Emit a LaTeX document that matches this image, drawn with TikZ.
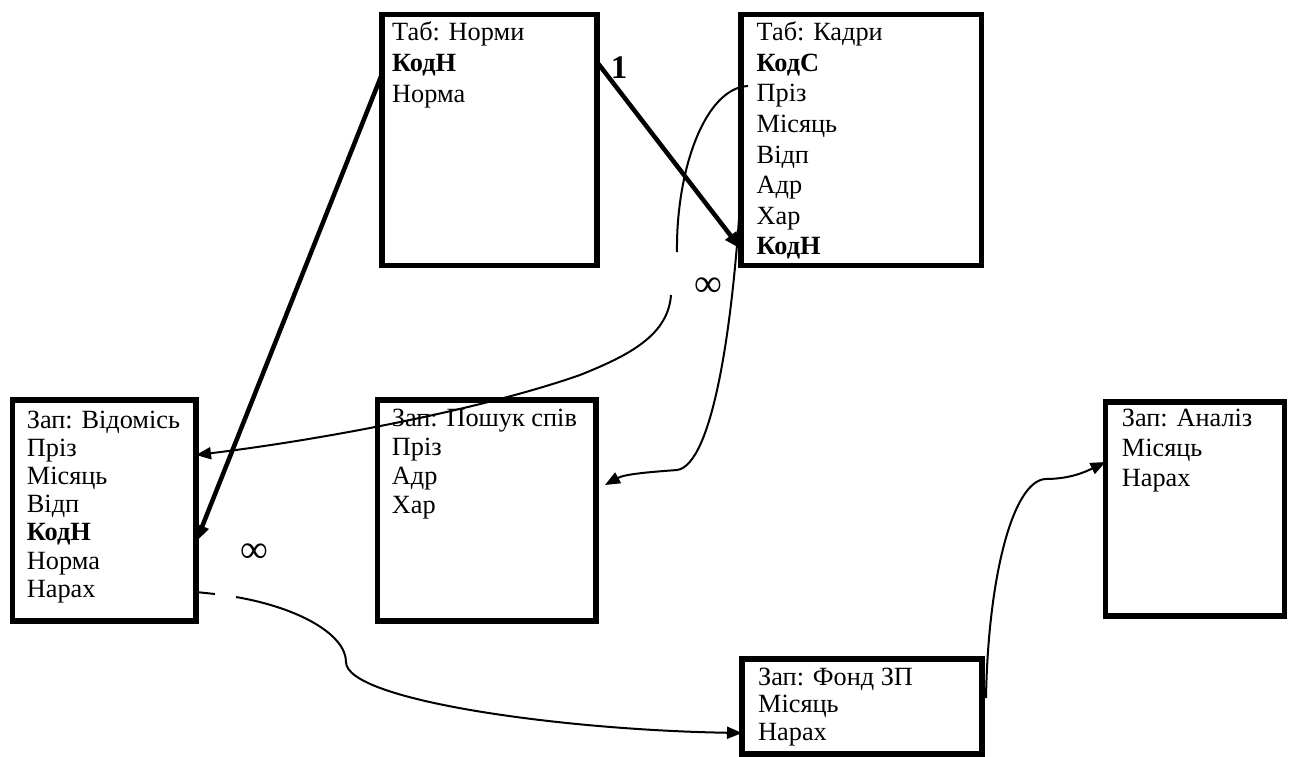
\documentclass[tikz,border=0pt]{standalone}
\usepackage{fontspec}
\setmainfont{Liberation Serif}
\usetikzlibrary{arrows.meta}
\newcommand{\fieldlist}[2]{\vtop{\baselineskip=#1\relax\lineskiplimit=-100pt\lineskip=0pt #2}}
\newcommand{\fl}[1]{\hbox{#1}}
\tikzset{
  tbl/.style={draw, line width=5.5pt, rectangle, outer sep=0pt, inner sep=0pt},
  fld/.style={anchor=base west, inner sep=0pt, font=\fontsize{26.3}{30}\selectfont},
  thickrel/.style={line width=4.5pt, -{Triangle[length=17pt,width=13pt]}},
  thinrel/.style={line width=2pt},
  arr/.style={-{Triangle[length=15pt,width=12pt]}},
  mult/.style={font=\fontsize{39}{39}\selectfont, inner sep=0pt}
}
\begin{document}
\begin{tikzpicture}[x=1pt,y=-1pt]
\useasboundingbox (0,0) rectangle (1296,756);
% tables and queries
\node[tbl, minimum width=215pt, minimum height=251pt] (norm) at (489.5,140) {};
\node[tbl, minimum width=240.5pt, minimum height=251pt] (kadri) at (861.25,140) {};
\node[tbl, minimum width=183.5pt, minimum height=221pt] (vid) at (104.25,510.5) {};
\node[tbl, minimum width=218.5pt, minimum height=221pt] (posh) at (486.75,510.5) {};
\node[tbl, minimum width=179pt, minimum height=214pt] (anal) at (1195,509) {};
\node[tbl, minimum width=240pt, minimum height=95pt] (fond) at (862,706.5) {};
% field lists
\node[fld] (normtxt) at (392,40.7) {\fieldlist{31pt}{\fl{Таб: Норми}\fl{\bfseries КодН}\fl{Норма}}};
\node[fld] (kadritxt) at (756.5,40.7) {\fieldlist{30.6pt}{\fl{Таб: Кадри}\fl{\bfseries КодС}\fl{Пріз}\fl{Місяць}\fl{Відп}\fl{Адр}\fl{Хар}\fl{\bfseries КодН}}};
\node[fld] (vidtxt) at (26.7,428) {\fieldlist{28.2pt}{\fl{Зап: Відомісь}\fl{Пріз}\fl{Місяць}\fl{Відп}\fl{\bfseries КодН}\fl{Норма}\fl{Нарах}}};
\node[fld] (poshtxt) at (391.7,426) {\fieldlist{29pt}{\fl{Зап: Пошук спів}\fl{Пріз}\fl{Адр}\fl{Хар}}};
\node[fld] (analtxt) at (1121.7,426.7) {\fieldlist{30pt}{\fl{Зап: Аналіз}\fl{Місяць}\fl{Нарах}}};
\node[fld] (fondtxt) at (758,685) {\fieldlist{27.5pt}{\fl{Зап: Фонд ЗП}\fl{Місяць}\fl{Нарах}}};
% labels
\node[anchor=base, inner sep=0pt, font=\bfseries\fontsize{33}{33}\selectfont] (one) at (619,78) {1};
\node[mult] (inf1) at (708,287.5) {∞};
\node[mult] (inf2) at (254,553) {∞};
% free ends
\coordinate (aTop) at (677,252);
\coordinate (aLow) at (671,295);
\coordinate (poshIn) at (605,485);
\coordinate (cTick) at (215,594);
\coordinate (cLow) at (236,597);
\coordinate (dLow) at (986,698);
% thick relations
\draw[thickrel] (norm.east |- 0,62) -- (kadri.west |- 0,249);
\draw[thickrel] (norm.west |- 0,74) -- (vid.east |- 0,542);
% thin relations
\draw[thinrel] (kadri.west |- 0,86) ++(7,0) .. controls (705,88) and (676,170) .. (aTop);
\draw[thinrel, arr] (aLow) .. controls (668,335) and (630,355) .. (580,375)
   .. controls (480,410) and (320,440) .. (vid.east |- 0,455);
\draw[thinrel, arr] (kadri.west |- 0,187) .. controls (733,330) and (712,465) .. (677,470)
   .. controls (650,472) and (625,474) .. (poshIn);
\draw[thinrel] (vid.east |- 0,592) -- (cTick);
\draw[thinrel, arr] (cLow) .. controls (300,608) and (346,635) .. (346,662)
   .. controls (346,700) and (560,730) .. (fond.west |- 0,733);
\draw[thinrel, arr] (dLow) .. controls (988,580) and (1012,482) .. (1045,479)
   .. controls (1070,479) and (1085,472) .. (anal.west |- 0,462);
\end{tikzpicture}
\end{document}
